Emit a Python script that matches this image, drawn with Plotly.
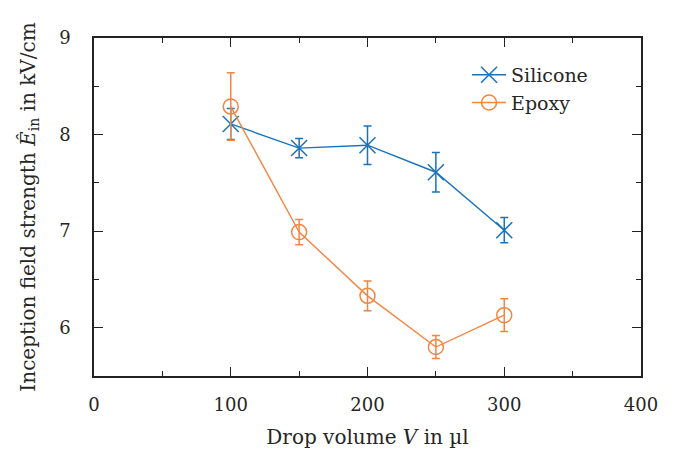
import plotly.graph_objects as go

volume = [100, 150, 200, 250, 300]
silicone = [8.11, 7.86, 7.89, 7.61, 7.01]
silicone_err = [0.16, 0.10, 0.20, 0.205, 0.13]
epoxy = [8.29, 6.99, 6.33, 5.80, 6.13]
epoxy_err = [0.35, 0.13, 0.155, 0.12, 0.17]

blue = "#1a72bb"
orange = "#f5853f"
font_family = "DejaVu Serif, Liberation Serif, serif"
txt = "#262626"

fig = go.Figure()
fig.add_trace(go.Scatter(
    x=volume, y=silicone, name="Silicone", mode="lines+markers",
    line=dict(color=blue, width=1.4),
    marker=dict(symbol="x-thin-open", size=16, line=dict(color=blue, width=1.5)),
    error_y=dict(type="data", array=silicone_err, color=blue, thickness=1.5, width=4),
))
fig.add_trace(go.Scatter(
    x=volume, y=epoxy, name="Epoxy", mode="lines+markers",
    line=dict(color=orange, width=1.4),
    marker=dict(symbol="circle-open", size=15, color=orange, line=dict(color=orange, width=1.5)),
    error_y=dict(type="data", array=epoxy_err, color=orange, thickness=1.5, width=4),
))

axis_common = dict(
    showgrid=False, zeroline=False, showline=True, linecolor="#222", linewidth=1.5,
    mirror="allticks", ticks="inside", ticklen=9, tickwidth=1.2, tickcolor="#222",
    tickfont=dict(family=font_family, size=18, color=txt),
)

fig.update_layout(
    width=676, height=457,
    margin=dict(l=94, r=35, t=38, b=81),
    paper_bgcolor="white", plot_bgcolor="white",
    font=dict(family=font_family, size=19, color=txt),
    xaxis=dict(
        range=[0, 400], tickvals=[0, 100, 200, 300, 400],
        minor=dict(tickvals=[50, 150, 250, 350], ticks="inside", ticklen=5, tickcolor="#222", tickwidth=1.2),
        title=dict(text="Drop volume <i>V</i> in µl", font=dict(family=font_family, size=20, color=txt), standoff=16),
        ticklabelstandoff=12,
        **axis_common,
    ),
    yaxis=dict(
        range=[5.5, 9], tickvals=[6, 7, 8, 9],
        minor=dict(tickvals=[5.5, 6.5, 7.5, 8.5], ticks="inside", ticklen=5, tickcolor="#222", tickwidth=1.2),
        title=dict(text="Inception field strength <i>Ê</i><sub>in</sub> in kV/cm", font=dict(family=font_family, size=20, color=txt), standoff=18),
        ticklabelstandoff=18,
        **axis_common,
    ),
    legend=dict(
        x=0.682, y=0.947, xanchor="left", yanchor="top",
        bgcolor="rgba(0,0,0,0)", font=dict(family=font_family, size=19, color=txt),
        tracegroupgap=0, itemwidth=34,
    ),
    showlegend=True,
)

fig.write_html("out.html")
